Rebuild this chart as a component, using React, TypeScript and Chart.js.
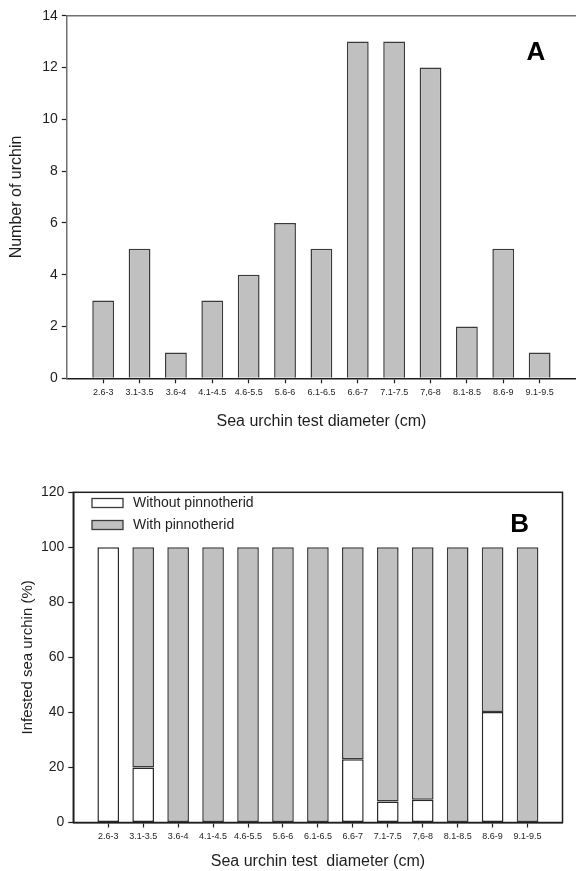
import React, { useEffect, useRef } from 'react';
import { Chart, registerables } from 'chart.js';

Chart.register(...registerables);

// ---------- data ----------
const sizeClasses = ['2.6-3', '3.1-3.5', '3.6-4', '4.1-4.5', '4.6-5.5', '5.6-6', '6.1-6.5', '6.6-7', '7.1-7.5', '7,6-8', '8.1-8.5', '8.6-9', '9.1-9.5'];
const urchinCounts = [3, 5, 1, 3, 4, 6, 5, 13, 13, 12, 2, 5, 1];
const withoutPinnotheridPct = [100, 20, 0, 0, 0, 0, 0, 23, 7.6, 8.3, 0, 40.2, 0];
const withPinnotheridPct = [0, 80, 100, 100, 100, 100, 100, 77, 92.4, 91.7, 100, 59.8, 100];
const countTicks = [0, 2, 4, 6, 8, 10, 12, 14];
const pctTicks = [0, 20, 40, 60, 80, 100, 120];

const FONT = '"Liberation Sans", Arial, Helvetica, sans-serif';
const GREY = '#c0c0c0';
const INK = '#1e1e1e';

const padLabels = ['', ...sizeClasses, ''];
const pad = (arr: number[]) => [null, ...arr, null];

const hideEndTicks = (color: string) => (ctx: any) =>
  ctx.index === 0 || ctx.index === padLabels.length - 1 ? 'rgba(0,0,0,0)' : color;

const decorPlugin = {
  id: 'decor',
  afterDatasetsDraw(chart: any, _args: any, opts: any) {
    const { ctx, chartArea: a } = chart;
    ctx.save();
    ctx.lineWidth = 1.5;
    if (opts.frame === 'top') {
      ctx.strokeStyle = '#707070';
      ctx.beginPath();
      ctx.moveTo(a.left, a.top);
      ctx.lineTo(chart.width, a.top);
      ctx.stroke();
    } else if (opts.frame === 'box') {
      ctx.strokeStyle = INK;
      ctx.strokeRect(a.left, a.top, a.right - a.left, a.bottom - a.top);
    }
    // panel letter
    ctx.fillStyle = '#000';
    ctx.font = `bold ${opts.letterSize}px ${FONT}`;
    ctx.textAlign = 'center';
    ctx.textBaseline = 'alphabetic';
    ctx.fillText(opts.letter, a.right - opts.letterDx, a.top + opts.letterDy);
    // legend
    if (opts.legend) {
      chart.data.datasets.forEach((ds: any, i: number) => {
        const y = a.top + opts.legendTop + i * opts.legendGap;
        const x = a.left + opts.legendLeft;
        ctx.fillStyle = ds.backgroundColor;
        ctx.fillRect(x, y - 4.5, 31, 9);
        ctx.strokeStyle = '#3a3a3a';
        ctx.lineWidth = 1.3;
        ctx.strokeRect(x, y - 4.5, 31, 9);
        ctx.fillStyle = INK;
        ctx.font = `14px ${FONT}`;
        ctx.textAlign = 'left';
        ctx.textBaseline = 'middle';
        ctx.fillText(ds.label, x + 41, y + 0.5);
      });
    }
    ctx.restore();
  },
};

function xScale(title: string, height: number, titlePadBottom: number, stacked = false) {
  return {
    type: 'category' as const,
    offset: false,
    stacked,
    afterFit: (s: any) => { s.height = height; },
    grid: {
      display: true,
      offset: false,
      drawOnChartArea: false,
      drawTicks: true,
      tickLength: 5,
      tickColor: hideEndTicks(INK),
      tickWidth: 1.2,
    },
    border: { display: true, color: INK, width: 1.5 },
    ticks: {
      autoSkip: false,
      maxRotation: 0,
      minRotation: 0,
      padding: 4,
      color: INK,
      font: { size: 9, family: FONT },
    },
    title: {
      display: true,
      text: title,
      color: INK,
      font: { size: 16, family: FONT },
      padding: { top: 0, bottom: titlePadBottom },
    },
  };
}

function yScale(title: string, ticks: number[], width: number, titleSize: number, titlePadTop: number, axisColor: string, stacked = false) {
  return {
    type: 'linear' as const,
    stacked,
    min: ticks[0],
    max: ticks[ticks.length - 1],
    afterFit: (s: any) => { s.width = width; },
    afterBuildTicks: (s: any) => { s.ticks = ticks.map((v) => ({ value: v })); },
    grid: {
      display: true,
      drawOnChartArea: false,
      drawTicks: true,
      tickLength: 5,
      tickColor: INK,
      tickWidth: 1.2,
    },
    border: { display: true, color: axisColor, width: 1.5 },
    ticks: {
      padding: 4,
      color: INK,
      font: { size: 14, family: FONT },
    },
    title: {
      display: true,
      text: title,
      color: INK,
      font: { size: titleSize, family: FONT },
      padding: { top: titlePadTop, bottom: 0 },
    },
  };
}

export default function App() {
  const refA = useRef<HTMLCanvasElement>(null);
  const refB = useRef<HTMLCanvasElement>(null);

  useEffect(() => {
    const chartA = new Chart(refA.current as HTMLCanvasElement, {
      type: 'bar',
      data: {
        labels: padLabels,
        datasets: [
          {
            label: 'Number of urchin',
            data: pad(urchinCounts),
            backgroundColor: GREY,
            borderColor: '#3a3a3a',
            borderWidth: 1.5,
            categoryPercentage: 1,
            barPercentage: 0.6,
          },
        ],
      },
      options: {
        responsive: false,
        animation: false,
        devicePixelRatio: 1,
        layout: { padding: { top: 15.7, right: 0.4, bottom: 0, left: 0 } },
        plugins: {
          legend: { display: false },
          tooltip: { enabled: false },
          decor: { frame: 'top', letter: 'A', letterSize: 26, letterDx: 40.1, letterDy: 44.6 },
        } as any,
        scales: {
          x: xScale('Sea urchin test diameter (cm)', 61.7, 8.4),
          y: yScale('Number of urchin', countTicks, 66.8, 16, 7, '#707070'),
        },
      },
      plugins: [decorPlugin],
    });

    const chartB = new Chart(refB.current as HTMLCanvasElement, {
      type: 'bar',
      data: {
        labels: padLabels,
        datasets: [
          {
            label: 'Without pinnotherid',
            data: pad(withoutPinnotheridPct),
            backgroundColor: '#ffffff',
            borderColor: '#2a2a2a',
            borderWidth: 1.5,
            borderSkipped: false,
            categoryPercentage: 1,
            barPercentage: 0.62,
          },
          {
            label: 'With pinnotherid',
            data: pad(withPinnotheridPct),
            backgroundColor: GREY,
            borderColor: '#3a3a3a',
            borderWidth: 1.5,
            borderSkipped: false,
            categoryPercentage: 1,
            barPercentage: 0.62,
          },
        ],
      },
      options: {
        responsive: false,
        animation: false,
        devicePixelRatio: 1,
        layout: { padding: { top: 52.3, right: 13.5, bottom: 0, left: 0 } },
        plugins: {
          legend: { display: false },
          tooltip: { enabled: false },
          decor: {
            frame: 'box', letter: 'B', letterSize: 26, letterDx: 42.8, letterDy: 39.9,
            legend: true, legendLeft: 18.7, legendTop: 10.7, legendGap: 22,
          },
        } as any,
        scales: {
          x: xScale('Sea urchin test  diameter (cm)', 48.5, 0, true),
          y: yScale('Infested sea urchin (%)', pctTicks, 73.3, 15, 19.3, INK, true),
        },
      },
      plugins: [decorPlugin],
    });

    return () => {
      chartA.destroy();
      chartB.destroy();
    };
  }, []);

  return (
    <div style={{ position: 'absolute', left: 0, top: 0, width: 576, height: 871, overflow: 'hidden', background: '#fff' }}>
      <canvas ref={refA} width={580} height={440} style={{ position: 'absolute', left: 0, top: 0, width: 580, height: 440 }} />
      <canvas ref={refB} width={576} height={431} style={{ position: 'absolute', left: 0, top: 440, width: 576, height: 431 }} />
    </div>
  );
}
